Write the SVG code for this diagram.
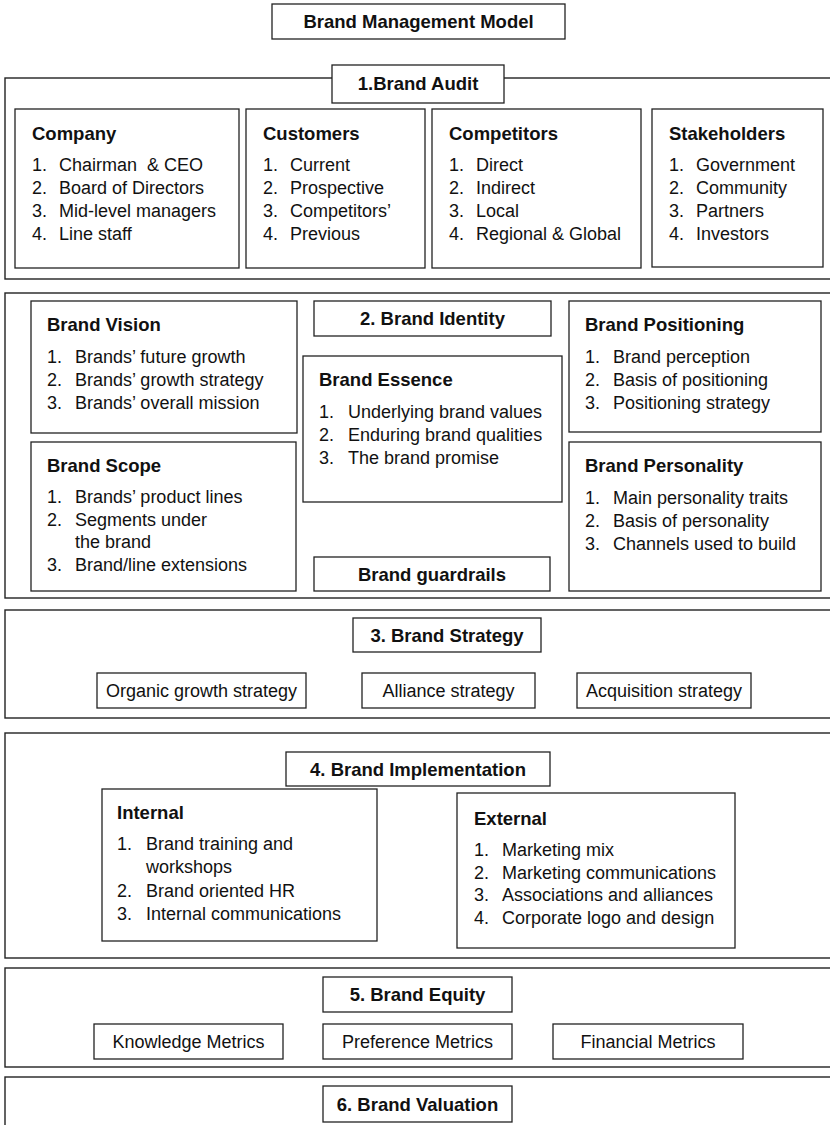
<svg xmlns="http://www.w3.org/2000/svg" width="830" height="1125" viewBox="0 0 830 1125">
<style>
.frame{fill:none;stroke:#222;stroke-width:1.4}
.box{fill:#fff;stroke:#222;stroke-width:1.3}
text{font-family:"Liberation Sans",Arial,Helvetica,sans-serif;fill:#111}
.h{font-weight:bold;font-size:18.5px}
.hc{font-weight:bold;font-size:18.5px;text-anchor:middle}
.t{font-size:18px}
.tl{font-size:18px}
.c{font-size:18px;text-anchor:middle}
</style>
<rect width="830" height="1125" fill="#fff"/>

<g id="title">
<rect class="box" x="272" y="4" width="293" height="35"/>
<text class="hc" x="418.5" y="28">Brand Management Model</text>
</g>

<!-- Section 1 -->
<g id="sec1-frame"><rect class="frame" x="5" y="78" width="840" height="201"/></g>
<g id="brand-audit">
<rect class="box" x="332" y="65" width="172" height="38"/>
<text class="hc" x="418" y="90">1.Brand Audit</text>
</g>
<g id="company">
<rect class="box" x="15" y="109" width="224" height="159"/>
<text class="h" x="32" y="139.5">Company</text>
<text class="t" x="32" y="171">1.</text><text class="t" x="59" y="171" xml:space="preserve">Chairman  &amp; CEO</text>
<text class="t" x="32" y="194">2.</text><text class="t" x="59" y="194">Board of Directors</text>
<text class="t" x="32" y="217">3.</text><text class="t" x="59" y="217">Mid-level managers</text>
<text class="t" x="32" y="240">4.</text><text class="t" x="59" y="240">Line staff</text>
</g>
<g id="customers">
<rect class="box" x="246" y="109" width="179" height="159"/>
<text class="h" x="263" y="139.5">Customers</text>
<text class="t" x="263" y="171">1.</text><text class="t" x="290" y="171">Current</text>
<text class="t" x="263" y="194">2.</text><text class="t" x="290" y="194">Prospective</text>
<text class="t" x="263" y="217">3.</text><text class="t" x="290" y="217">Competitors’</text>
<text class="t" x="263" y="240">4.</text><text class="t" x="290" y="240">Previous</text>
</g>
<g id="competitors">
<rect class="box" x="432" y="109" width="209" height="159"/>
<text class="h" x="449" y="139.5">Competitors</text>
<text class="t" x="449" y="171">1.</text><text class="t" x="476" y="171">Direct</text>
<text class="t" x="449" y="194">2.</text><text class="t" x="476" y="194">Indirect</text>
<text class="t" x="449" y="217">3.</text><text class="t" x="476" y="217">Local</text>
<text class="t" x="449" y="240">4.</text><text class="t" x="476" y="240">Regional &amp; Global</text>
</g>
<g id="stakeholders">
<rect class="box" x="652" y="109" width="171" height="158"/>
<text class="h" x="669" y="139.5">Stakeholders</text>
<text class="t" x="669" y="171">1.</text><text class="t" x="696" y="171">Government</text>
<text class="t" x="669" y="194">2.</text><text class="t" x="696" y="194">Community</text>
<text class="t" x="669" y="217">3.</text><text class="t" x="696" y="217">Partners</text>
<text class="t" x="669" y="240">4.</text><text class="t" x="696" y="240">Investors</text>
</g>

<!-- Section 2 -->
<g id="sec2-frame"><rect class="frame" x="5" y="293" width="840" height="305"/></g>
<g id="brand-vision">
<rect class="box" x="31" y="301" width="266" height="132"/>
<text class="h" x="47" y="331">Brand Vision</text>
<text class="t" x="47" y="363">1.</text><text class="t" x="75" y="363">Brands’ future growth</text>
<text class="t" x="47" y="386">2.</text><text class="t" x="75" y="386">Brands’ growth strategy</text>
<text class="t" x="47" y="409">3.</text><text class="t" x="75" y="409">Brands’ overall mission</text>
</g>
<g id="brand-identity">
<rect class="box" x="314" y="301" width="237" height="35"/>
<text class="hc" x="432.5" y="325">2. Brand Identity</text>
</g>
<g id="brand-essence">
<rect class="box" x="303" y="356" width="259" height="146"/>
<text class="h" x="319" y="386">Brand Essence</text>
<text class="t" x="319" y="418">1.</text><text class="t" x="348" y="418">Underlying brand values</text>
<text class="t" x="319" y="441">2.</text><text class="t" x="348" y="441">Enduring brand qualities</text>
<text class="t" x="319" y="464">3.</text><text class="t" x="348" y="464">The brand promise</text>
</g>
<g id="brand-scope">
<rect class="box" x="31" y="442" width="265" height="149"/>
<text class="h" x="47" y="472">Brand Scope</text>
<text class="t" x="47" y="503">1.</text><text class="t" x="75" y="503">Brands’ product lines</text>
<text class="t" x="47" y="525.5">2.</text><text class="t" x="75" y="525.5">Segments under</text>
<text class="t" x="75" y="548">the brand</text>
<text class="t" x="47" y="570.5">3.</text><text class="t" x="75" y="570.5">Brand/line extensions</text>
</g>
<g id="brand-guardrails">
<rect class="box" x="314" y="557" width="236" height="34"/>
<text class="hc" x="432" y="580.5">Brand guardrails</text>
</g>
<g id="brand-positioning">
<rect class="box" x="569" y="301" width="252" height="131"/>
<text class="h" x="585" y="331">Brand Positioning</text>
<text class="t" x="585" y="363">1.</text><text class="t" x="613" y="363">Brand perception</text>
<text class="t" x="585" y="386">2.</text><text class="t" x="613" y="386">Basis of positioning</text>
<text class="t" x="585" y="409">3.</text><text class="t" x="613" y="409">Positioning strategy</text>
</g>
<g id="brand-personality">
<rect class="box" x="569" y="442" width="252" height="149"/>
<text class="h" x="585" y="472">Brand Personality</text>
<text class="t" x="585" y="504">1.</text><text class="t" x="613" y="504">Main personality traits</text>
<text class="t" x="585" y="527">2.</text><text class="t" x="613" y="527">Basis of personality</text>
<text class="t" x="585" y="550">3.</text><text class="t" x="613" y="550">Channels used to build</text>
</g>

<!-- Section 3 -->
<g id="sec3-frame"><rect class="frame" x="5" y="610" width="840" height="108"/></g>
<g id="brand-strategy">
<rect class="box" x="353" y="618" width="188" height="34"/>
<text class="hc" x="447" y="641.5">3. Brand Strategy</text>
</g>
<g id="organic">
<rect class="box" x="97" y="673" width="209" height="35"/>
<text class="c" x="201.5" y="697">Organic growth strategy</text>
</g>
<g id="alliance">
<rect class="box" x="362" y="673" width="173" height="35"/>
<text class="c" x="448.5" y="697">Alliance strategy</text>
</g>
<g id="acquisition">
<rect class="box" x="577" y="673" width="174" height="35"/>
<text class="c" x="664" y="697">Acquisition strategy</text>
</g>

<!-- Section 4 -->
<g id="sec4-frame"><rect class="frame" x="5" y="733" width="840" height="225"/></g>
<g id="brand-implementation">
<rect class="box" x="286" y="752" width="264" height="34"/>
<text class="hc" x="418" y="775.5">4. Brand Implementation</text>
</g>
<g id="internal">
<rect class="box" x="102" y="789" width="275" height="152"/>
<text class="h" x="117" y="818.5">Internal</text>
<text class="tl" x="117" y="849.5">1.</text><text class="tl" x="146" y="849.5">Brand training and</text>
<text class="tl" x="146" y="873">workshops</text>
<text class="tl" x="117" y="896.5">2.</text><text class="tl" x="146" y="896.5">Brand oriented HR</text>
<text class="tl" x="117" y="919.5">3.</text><text class="tl" x="146" y="919.5">Internal communications</text>
</g>
<g id="external">
<rect class="box" x="457" y="793" width="278" height="155"/>
<text class="h" x="474" y="824.5">External</text>
<text class="tl" x="474" y="855.5">1.</text><text class="tl" x="502" y="855.5">Marketing mix</text>
<text class="tl" x="474" y="878.5">2.</text><text class="tl" x="502" y="878.5">Marketing communications</text>
<text class="tl" x="474" y="901">3.</text><text class="tl" x="502" y="901">Associations and alliances</text>
<text class="tl" x="474" y="923.5">4.</text><text class="tl" x="502" y="923.5">Corporate logo and design</text>
</g>

<!-- Section 5 -->
<g id="sec5-frame"><rect class="frame" x="5" y="968" width="840" height="99"/></g>
<g id="brand-equity">
<rect class="box" x="323" y="977" width="189" height="35"/>
<text class="hc" x="417.5" y="1001">5. Brand Equity</text>
</g>
<g id="knowledge">
<rect class="box" x="94" y="1024" width="189" height="35"/>
<text class="c" x="188.5" y="1048">Knowledge Metrics</text>
</g>
<g id="preference">
<rect class="box" x="323" y="1024" width="189" height="35"/>
<text class="c" x="417.5" y="1048">Preference Metrics</text>
</g>
<g id="financial">
<rect class="box" x="553" y="1024" width="190" height="35"/>
<text class="c" x="648" y="1048">Financial Metrics</text>
</g>

<!-- Section 6 -->
<g id="sec6-frame"><rect class="frame" x="5" y="1077" width="840" height="100"/></g>
<g id="brand-valuation">
<rect class="box" x="323" y="1086" width="189" height="36"/>
<text class="hc" x="417.5" y="1110.5">6. Brand Valuation</text>
</g>

<g id="connectors"/>
</svg>
